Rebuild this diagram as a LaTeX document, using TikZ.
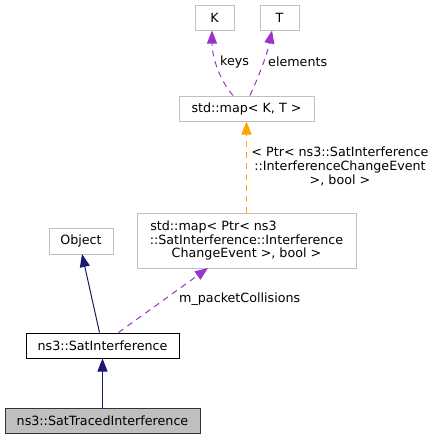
\documentclass[tikz,border=0pt]{standalone}
\usepackage{fontspec}
\setmainfont{DejaVu Sans}
\usetikzlibrary{arrows.meta}
\definecolor{boxgray}{HTML}{BFBFBF}
\definecolor{purp}{HTML}{9A32CD}
\definecolor{navyc}{HTML}{191970}
\definecolor{orng}{HTML}{FFA500}
\begin{document}
\begin{tikzpicture}[x=1pt,y=-1pt,
  box/.style={draw=boxgray, line width=1pt, inner sep=0pt, font=\fontsize{12.7}{13.8}\selectfont, align=center},
  mainbox/.style={box, draw=black},
  curbox/.style={box, draw=black!80, fill=boxgray},
  tip/.style={-{Triangle[length=13pt,width=10pt]}},
  uses/.style={tip, draw=purp, dash pattern=on 6pt off 5pt, line width=1pt},
  tmpl/.style={tip, draw=orng, dash pattern=on 6pt off 5pt, line width=1pt},
  inh/.style={tip, draw=navyc, line width=1pt},
  lbl/.style={font=\fontsize{12.7}{14}\selectfont, inner sep=0pt, align=center}]
\useasboundingbox (0,0) rectangle (436,440);
\node[box, minimum width=39pt, minimum height=25pt] (K) at (214.5,18) {K};
\node[box, minimum width=39pt, minimum height=25pt] (T) at (279.5,18) {T};
\node[box, minimum width=135pt, minimum height=25pt] (smap) at (246.5,108.5) {std::map< K, T >};
\node[box, minimum width=219pt, minimum height=55pt] (bmap) at (246.5,240.5) {std::map< Ptr< ns3\hspace*{66pt}\\::SatInterference::Interference\\ChangeEvent >, bool >};
\node[box, minimum width=64pt, minimum height=26pt] (obj) at (81,241) {Object};
\node[mainbox, minimum width=153pt, minimum height=25pt] (si) at (102.5,345.5) {ns3::SatInterference};
\node[curbox, minimum width=195pt, minimum height=25pt] (st) at (102.5,420.5) {ns3::SatTracedInterference};
\coordinate (kS) at (212,30.5);
\coordinate (tS) at (272,30.5);
\draw[uses] ([xshift=-13.5pt]smap.north) .. controls (218,78) and (212,55) .. (kS);
\draw[uses] ([xshift=3.5pt]smap.north) .. controls (258,78) and (267,55) .. (tS);
\node[lbl, anchor=west] (lk) at (220,62) {keys};
\node[lbl, anchor=west] (le) at (268,62) {elements};
\draw[tmpl] (bmap.north -| smap.south) -- (smap.south);
\node[lbl] (lt) at (340,166) {< Ptr< ns3::SatInterference\\::InterferenceChangeEvent\hspace*{7pt}\\>, bool >};
\coordinate (bmS) at (208,268);
\draw[uses] ([xshift=16pt]si.north) -- (bmS);
\node[lbl, anchor=west] (lp) at (179,299) {m\_packetCollisions};
\coordinate (oS) at (82,254);
\draw[inh] ([xshift=-3pt]si.north) -- (oS);
\draw[inh] (st.north) -- (si.south);
\end{tikzpicture}
\end{document}
